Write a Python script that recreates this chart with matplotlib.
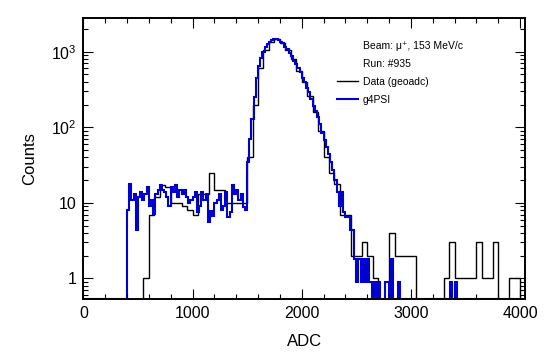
import numpy as np
import matplotlib
matplotlib.use('Agg')
import matplotlib.pyplot as plt
from matplotlib.lines import Line2D
from matplotlib.ticker import MultipleLocator, FixedLocator, NullFormatter

plt.rcParams['font.family'] = ['Liberation Sans', 'DejaVu Sans']
plt.rcParams['mathtext.fontset'] = 'custom'
plt.rcParams['mathtext.rm'] = 'Liberation Sans'
plt.rcParams['mathtext.it'] = 'Liberation Sans:italic'

# measured data (geoadc), 50 ADC bins from 0 to 4000
data_width = 50
data_counts = [0, 0, 0, 0, 0, 0, 0, 0, 0, 0, 0,
               1, 7, 12, 17, 16, 10, 10, 9, 8, 7, 13, 13, 25, 15, 15, 10, 10, 10, 10,
               40, 200, 600, 1050, 1350, 1450, 1300, 1050, 800, 560, 400, 260, 160,
               90, 40, 25, 18, 7, 7,
               2, 2, 3, 2, 1, 0, 0, 4, 2, 2, 2, 2, 0, 0, 0, 0, 0,
               1, 3, 1, 1, 1, 1, 3, 1, 1, 3, 0, 0, 1, 1]

# g4PSI simulation, 20 ADC bins from 0 to 4000
sim_width = 20
sim_start = 400
sim_low = [8, 18, 11, 13, 4.4, 12, 14, 11, 13, 16, 9, 11, 7.2, 13, 15,
           17, 15, 14, 12, 9, 16, 14, 17, 12, 15, 13, 15, 12, 10, 11,
           12, 14, 7.5, 9, 14, 11, 13, 5.6, 7.8, 6.8, 10, 11, 13, 8, 9,
           14, 6.5, 7.5, 17, 13, 15, 11, 13, 8.8, 8]
sim_peak = [35, 70, 130, 250, 450, 650, 820, 1000, 1150, 1280, 1330, 1420,
            1460, 1470, 1440, 1350, 1290, 1150, 1070, 960, 880, 760, 680, 600,
            540, 450, 400, 330, 290, 240, 190, 165, 135, 110, 85, 68, 55, 44,
            35, 27, 20, 14, 9, 14, 7.5, 6.5, 6.5, 4.4, 4.4]
sim_tail = [1.8, 0.9, 1.8, 0.9, 1.8, 0.9, 1.8, 0.9, 0, 0.9, 0, 0.9, 0, 0,
            0.9, 0.9, 0, 1.8, 0, 0, 0.9, 0]
sim_far_adc = [3360, 3400]
sim_far_counts = [0.9, 0.9]

ybot, ytop = 0.53, 2830

data_edges = np.arange(0, 4000 + data_width, data_width)
data_vals = np.array(data_counts, dtype=float)

sim_edges = np.arange(0, 4000 + sim_width, sim_width)
sim_vals = np.zeros(len(sim_edges) - 1)
i0 = sim_start // sim_width
seq = sim_low + sim_peak + sim_tail
sim_vals[i0:i0 + len(seq)] = seq
for a, c in zip(sim_far_adc, sim_far_counts):
    sim_vals[a // sim_width] = c

fig = plt.figure(figsize=(5.54, 3.54), dpi=100)
ax = fig.add_axes([0.1504, 0.1545, 0.7973, 0.7960])

ax.stairs(np.where(data_vals > 0, data_vals, ybot), data_edges, baseline=ybot,
          color='black', lw=1.0, label='Data (geoadc)')
ax.stairs(np.where(sim_vals > 0, sim_vals, ybot), sim_edges, baseline=ybot,
          color='#0000d0', lw=1.5, label='g4PSI')

ax.set_yscale('log')
ax.set_xlim(0, 4045)
ax.set_ylim(ybot, ytop)

ax.xaxis.set_major_locator(MultipleLocator(1000))
ax.xaxis.set_minor_locator(MultipleLocator(200))
ax.yaxis.set_major_locator(FixedLocator([1, 10, 100, 1000]))
ax.set_yticklabels(['1', '10', r'$10^{2}$', r'$10^{3}$'])
minors = [m * 10 ** e for e in range(-1, 4) for m in range(2, 10)]
ax.yaxis.set_minor_locator(FixedLocator(minors))
ax.yaxis.set_minor_formatter(NullFormatter())

ax.tick_params(which='both', direction='in', top=True, right=True,
               labelsize=11.5, width=0.8)
ax.tick_params(which='major', length=7, pad=5)
ax.tick_params(which='minor', length=3.5)
for s in ax.spines.values():
    s.set_linewidth(1.4)

ax.set_xlabel('ADC', fontsize=12, labelpad=9)
ax.set_ylabel('Counts', fontsize=12, labelpad=10)

h, l = ax.get_legend_handles_labels()
blank = Line2D([], [], color='none')
ax.legend([blank, blank] + h, ['Beam: μ⁺, 153 MeV/c', 'Run: #935'] + l,
          loc='upper left', bbox_to_anchor=(0.574, 0.918), frameon=False,
          fontsize=7.5, handlelength=2.0, handletextpad=0.5, labelspacing=0.78,
          borderpad=0, borderaxespad=0)

fig.savefig('out.png', dpi=100)
